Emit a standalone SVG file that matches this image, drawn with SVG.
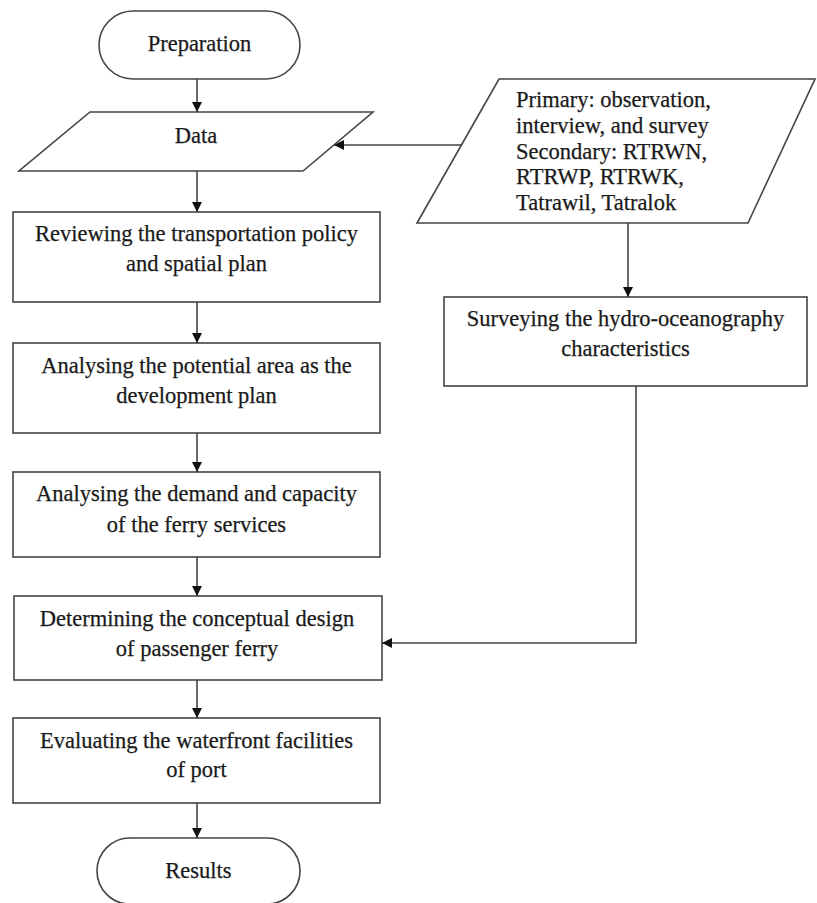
<svg xmlns="http://www.w3.org/2000/svg" width="817" height="903" viewBox="0 0 817 903">
<defs>
<marker id="arr" viewBox="0 0 10 10" refX="10" refY="5" markerWidth="10" markerHeight="10" markerUnits="userSpaceOnUse" orient="auto">
<path d="M0,0 L10,5 L0,10 z" fill="#111"/>
</marker>
<style>
.s{fill:#fff;stroke:#444;stroke-width:1.6}
.c{fill:none;stroke:#444;stroke-width:1.6;marker-end:url(#arr)}
text{font-family:"Liberation Serif","Times New Roman",serif;font-size:22.5px;fill:#1a1a1a;stroke:#1a1a1a;stroke-width:0.25}
.m{text-anchor:middle}
</style>
</defs>
<rect width="817" height="903" fill="#fff"/>
<g id="preparation">
<rect class="s" x="99" y="11" width="201" height="68" rx="34" ry="34"/>
<text class="m" x="199.5" y="51">Preparation</text>
</g>
<g id="data">
<polygon class="s" points="90,112 373,112 303,171 19,171"/>
<text class="m" x="196" y="143">Data</text>
</g>
<g id="sources">
<polygon class="s" points="499,79 815,79 748,223 417,223"/>
<text x="516" y="107">Primary: observation,</text>
<text x="516" y="133">interview, and  survey</text>
<text x="516" y="159">Secondary: RTRWN,</text>
<text x="516" y="184">RTRWP, RTRWK,</text>
<text x="516" y="210">Tatrawil, Tatralok</text>
</g>
<g id="reviewing">
<rect class="s" x="13" y="212" width="367" height="90"/>
<text class="m" x="196.5" y="241">Reviewing the transportation policy</text>
<text class="m" x="196.5" y="271">and spatial plan</text>
</g>
<g id="potential">
<rect class="s" x="13" y="343" width="367" height="90"/>
<text class="m" x="196.5" y="373">Analysing the potential area as the</text>
<text class="m" x="196.5" y="403">development plan</text>
</g>
<g id="demand">
<rect class="s" x="13" y="472" width="367" height="85"/>
<text class="m" x="196.5" y="501">Analysing the demand and capacity</text>
<text class="m" x="196.5" y="532">of the ferry services</text>
</g>
<g id="determining">
<rect class="s" x="14" y="596" width="368" height="84"/>
<text class="m" x="197" y="626">Determining the conceptual design</text>
<text class="m" x="197" y="656">of passenger ferry</text>
</g>
<g id="evaluating">
<rect class="s" x="13" y="718" width="367" height="85"/>
<text class="m" x="196.5" y="748">Evaluating the waterfront facilities</text>
<text class="m" x="196.5" y="777">of port</text>
</g>
<g id="results">
<rect class="s" x="97" y="838" width="203" height="66" rx="33" ry="33"/>
<text class="m" x="198.5" y="878">Results</text>
</g>
<g id="surveying">
<rect class="s" x="444" y="297" width="363" height="89"/>
<text class="m" x="625.5" y="326">Surveying the hydro-oceanography</text>
<text class="m" x="625.5" y="356">characteristics</text>
</g>
<g id="connectors">
<line class="c" x1="197" y1="79" x2="197" y2="112"/>
<line class="c" x1="197" y1="171" x2="197" y2="212"/>
<line class="c" x1="197" y1="302" x2="197" y2="343"/>
<line class="c" x1="197" y1="433" x2="197" y2="472"/>
<line class="c" x1="197" y1="557" x2="197" y2="596"/>
<line class="c" x1="197" y1="680" x2="197" y2="718"/>
<line class="c" x1="197" y1="803" x2="197" y2="838"/>
<line class="c" x1="462" y1="145" x2="334" y2="145"/>
<line class="c" x1="628" y1="223" x2="628" y2="297"/>
<polyline class="c" points="636,386 636,643 382,643"/>
</g>
</svg>
